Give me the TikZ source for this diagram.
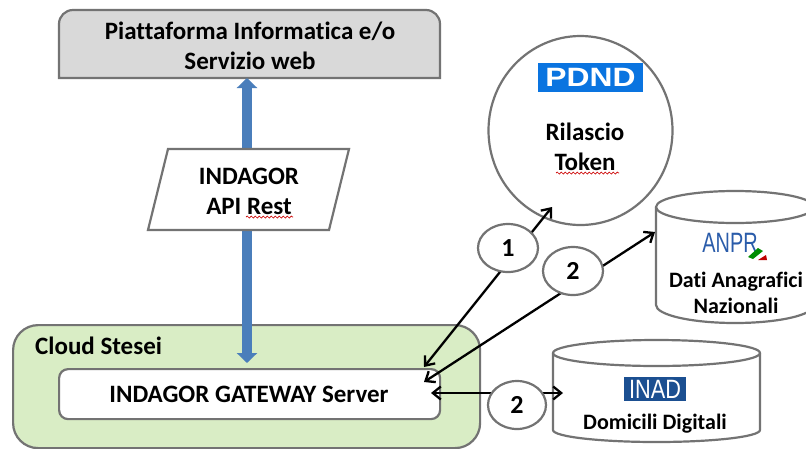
\documentclass[tikz,border=0pt]{standalone}
\usepackage{fontspec}
\setmainfont[Ligatures=NoCommon]{Carlito}
\newfontfamily\logofont{Liberation Sans}
\usetikzlibrary{arrows.meta,shapes.geometric,decorations.pathmorphing}
\tikzset{
  x=1pt,y=-1pt,
  outline/.style={draw=gray!90!black,line width=2.2pt},
  lab/.style={font=\fontsize{25}{27}\selectfont\bfseries,text=black,inner sep=0pt,align=center},
  smalllab/.style={lab,font=\fontsize{22}{24}\selectfont\bfseries},
  numlab/.style={outline,fill=white,ellipse,minimum width=60pt,minimum height=48pt,inner sep=0pt,font=\fontsize{26}{28}\selectfont\bfseries},
  link/.style={black,line width=2.3pt,{Straight Barb[length=8pt,width=13pt,line width=2.3pt]}-{Straight Barb[length=8pt,width=13pt,line width=2.3pt]}},
  bluelink/.style={draw=arrowblue,line width=9.5pt,{Triangle[length=10pt,width=20pt]}-{Triangle[length=10pt,width=20pt]}},
  squiggle/.style={draw=red!80!black,line width=0.7pt,decorate,decoration={snake,amplitude=1pt,segment length=4pt}}
}
\definecolor{arrowblue}{HTML}{4A7EBB}
\definecolor{cloudgreen}{HTML}{D9EDC5}
\definecolor{platgray}{HTML}{D9D9D9}
\definecolor{pdndblue}{HTML}{0A74E0}
\definecolor{inadblue}{HTML}{1B4F91}
\definecolor{anprblue}{HTML}{2A5CAA}
\begin{document}
\begin{tikzpicture}
\useasboundingbox (0,0) rectangle (806,448);
\clip (0,0) rectangle (806,448);
% platform box
\draw[outline,fill=platgray]
  (59,78) -- (59,24) arc[start angle=180,end angle=90,x radius=14,y radius=-14] -- (426,10)
  arc[start angle=90,end angle=0,x radius=14,y radius=-14] -- (440,78) -- cycle;
\node[lab] (plat) at (250,46) {Piattaforma Informatica e/o\\[3pt]Servizio web};
% cloud
\node[outline,fill=cloudgreen,rounded corners=25pt,minimum width=467pt,minimum height=123pt,anchor=north west,inner sep=0pt] (cloud) at (12,324) {};
\node[lab,anchor=west] (cloudlab) at (35,346) {Cloud Stesei};
\node[outline,fill=white,rounded corners=9pt,minimum width=381pt,minimum height=50pt,anchor=north west,inner sep=0pt] (server) at (58,368) {};
\node[lab] (serverlab) at (249,394) {INDAGOR GATEWAY Server};
% blue connector
\coordinate (bluetop) at (247,78);
\coordinate (bluebot) at (247,363);
\draw[bluelink] (bluetop) -- (bluebot);
% API parallelogram
\draw[outline,fill=white] (168,149) -- (349,149) -- (329,230) -- (148,230) -- cycle;
\node[lab] (api) at (249,191) {INDAGOR\\[3pt]API Rest};
\draw[squiggle] (246,217) -- (293,217);
% PDND circle
\node[outline,fill=white,ellipse,minimum width=184pt,minimum height=189pt,inner sep=0pt] (pdnd) at (580.5,130.5) {};
\node[fill=pdndblue,text=white,minimum width=105pt,minimum height=29pt,inner sep=0pt,font=\logofont\fontsize{26.5}{28}\selectfont\bfseries] (pdndlogo) at (590.5,77.5) {\scalebox{1.2}[1]{PDND}};
\node[lab] (token) at (585,147) {Rilascio\\[3pt]Token};
\draw[squiggle] (556,173) -- (619,173);
% ANPR cylinder
\draw[outline,fill=white] (656,207) -- (656,305)
  arc[start angle=180,end angle=360,x radius=79,y radius=-18] -- (814,207);
\draw[outline,fill=white] (735,207) ellipse[x radius=79,y radius=16];
\node[inner sep=0pt,text=anprblue,font=\logofont\fontsize{28}{30}\selectfont] (anprlogo) at (730,243) {\scalebox{0.71}[1]{ANPR}};
\fill[green!55!black] (748,257) -- (758,248) -- (763,251) -- (753,259) -- cycle;
\fill[red!75!black] (758,260) -- (766,255) -- (767,260) -- cycle;
\node[smalllab] (anpr) at (736,293) {Dati Anagrafici\\[2pt]Nazionali};
% INAD cylinder
\draw[outline,fill=white] (553,353) -- (553,430)
  arc[start angle=180,end angle=360,x radius=103.5,y radius=-12] -- (760,353);
\draw[outline,fill=white] (656.5,353) ellipse[x radius=103.5,y radius=13];
\node[fill=inadblue,text=white,minimum width=62pt,minimum height=24pt,inner sep=0pt,font=\logofont\fontsize{26.5}{28}\selectfont] (inadlogo) at (655,389) {\scalebox{0.82}[1]{INAD}};
\node[smalllab] (inad) at (655,424) {Domicili Digitali};
% black connectors
\coordinate (s1) at (424,367);
\coordinate (t1) at (552,207);
\coordinate (s2) at (424,382);
\coordinate (t2) at (655,232);
\coordinate (s3) at (431,393);
\coordinate (t3) at (563,393);
\draw[link] (s1) -- (t1);
\draw[link] (s2) -- (t2);
\draw[link] (s3) -- (t3);
\node[numlab] (n1) at (508,248) {1};
\node[numlab] (n2) at (573,271) {2};
\node[numlab,minimum width=58pt] (n3) at (517,405) {2};
\end{tikzpicture}
\end{document}
